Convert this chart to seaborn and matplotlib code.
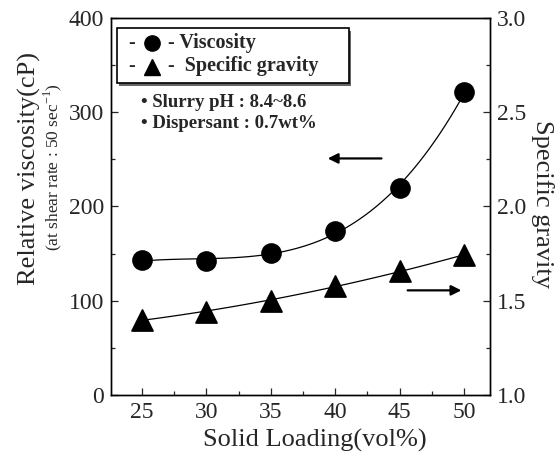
import numpy as np
import pandas as pd
import seaborn as sns
import matplotlib.pyplot as plt
from matplotlib.ticker import MultipleLocator

# data
loading = [25, 30, 35, 40, 45, 50]
viscosity = [143, 142, 151, 174, 220, 321]
gravity = [1.40, 1.44, 1.50, 1.58, 1.66, 1.74]

df = pd.DataFrame({'loading': loading, 'viscosity': viscosity, 'gravity': gravity})

sns.set_style('ticks')
plt.rcParams['font.family'] = ['Liberation Serif', 'DejaVu Serif']
plt.rcParams['mathtext.fontset'] = 'custom'
plt.rcParams['mathtext.rm'] = 'Liberation Serif'

fig = plt.figure(figsize=(5.58, 4.63), dpi=100)
ax = fig.add_axes([0.199, 0.147, 0.679, 0.814])
ax2 = ax.twinx()

# viscosity: smooth fitted curve + markers
sns.regplot(data=df, x='loading', y='viscosity', order=3, ci=None, scatter=False,
            line_kws={'color': 'black', 'lw': 0.9}, ax=ax)
sns.scatterplot(data=df, x='loading', y='viscosity', marker='o', s=190,
                color='black', edgecolor='black', ax=ax, zorder=5)

# specific gravity on the right axis
sns.regplot(data=df, x='loading', y='gravity', order=2, ci=None, scatter=False,
            line_kws={'color': 'black', 'lw': 0.9}, ax=ax2)
sns.scatterplot(data=df, x='loading', y='gravity', marker='^', s=230,
                color='black', edgecolor='black', ax=ax2, zorder=5)

ax.set_xlim(22.6, 52.0)
ax.set_ylim(0, 400)
ax2.set_ylim(1.0, 3.0)

ax.xaxis.set_major_locator(MultipleLocator(5))
ax.xaxis.set_minor_locator(MultipleLocator(2.5))
ax.yaxis.set_major_locator(MultipleLocator(100))
ax.yaxis.set_minor_locator(MultipleLocator(50))
ax2.yaxis.set_major_locator(MultipleLocator(0.5))
ax2.yaxis.set_minor_locator(MultipleLocator(0.25))
ax2.yaxis.set_major_formatter(plt.FormatStrFormatter('%.1f'))

for a in (ax, ax2):
    a.tick_params(which='major', direction='in', length=5, width=0.9, labelsize=17, pad=5)
    a.tick_params(which='minor', direction='in', length=3, width=0.9)
    for s in a.spines.values():
        s.set_linewidth(1.0)
        s.set_color('black')

ax.set_xlabel('Solid Loading(vol%)', fontsize=19, labelpad=3)
ax.xaxis.set_label_coords(0.538, -0.09)
ax.set_ylabel('')
ax2.set_ylabel('')

fig.text(0.052, 0.635, 'Relative viscosity(cP)', rotation=90, fontsize=19,
         ha='center', va='center')
fig.text(0.094, 0.64, '(at shear rate : 50 sec$^{-1}$)', rotation=90, fontsize=12.5,
         ha='center', va='center')
fig.text(0.972, 0.56, 'Specific gravity', rotation=270, fontsize=19,
         ha='center', va='center')

# direction arrows
ax.annotate('', xy=(39.2, 251), xytext=(43.8, 251),
            arrowprops=dict(arrowstyle='-|>', color='black', lw=1.6, mutation_scale=15))
ax2.annotate('', xy=(50.0, 1.555), xytext=(45.4, 1.555),
             arrowprops=dict(arrowstyle='-|>', color='black', lw=1.6, mutation_scale=15))

# legend box with shadow
lab_kw = dict(fontsize=14.5, fontweight='bold', transform=ax.transAxes, va='center')
box = plt.Rectangle((0.016, 0.828), 0.612, 0.145, transform=ax.transAxes,
                    facecolor='white', edgecolor='black', lw=1.2, zorder=6)
shadow = plt.Rectangle((0.022, 0.821), 0.612, 0.145, transform=ax.transAxes,
                       facecolor='#666666', edgecolor='none', zorder=5.5)
ax.add_patch(shadow)
ax.add_patch(box)
ax.text(0.045, 0.934, '-', zorder=7, **lab_kw)
ax.plot([0.108], [0.934], 'o', color='black', ms=11, transform=ax.transAxes, zorder=7)
ax.text(0.15, 0.934, '- Viscosity', zorder=7, **lab_kw)
ax.text(0.045, 0.873, '-', zorder=7, **lab_kw)
ax.plot([0.108], [0.871], '^', color='black', ms=11, transform=ax.transAxes, zorder=7)
ax.text(0.15, 0.873, '-  Specific gravity', zorder=7, **lab_kw)

ax.text(0.078, 0.777, '\u2022 Slurry pH : 8.4~8.6', fontsize=13.5, fontweight='bold',
        transform=ax.transAxes, va='center')
ax.text(0.078, 0.721, '\u2022 Dispersant : 0.7wt%', fontsize=13.5, fontweight='bold',
        transform=ax.transAxes, va='center')

ax.set_zorder(ax2.get_zorder() + 1)
ax.patch.set_visible(False)

fig.savefig('out.png', dpi=100, facecolor='white')
